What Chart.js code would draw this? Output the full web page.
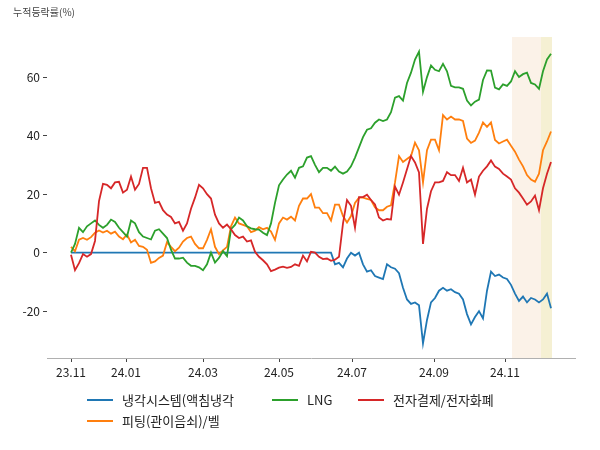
<!DOCTYPE html>
<html>
<head>
<meta charset="utf-8">
<script src="https://cdn.jsdelivr.net/npm/chart.js@4.4.1/dist/chart.umd.min.js"></script>
<style>
  body { margin: 0; background: #fff; }
  #wrap { position: relative; width: 600px; height: 450px; font-family: "Noto Sans CJK KR", "Noto Sans", sans-serif; }
  #title { position: absolute; left: 13px; top: 4px; font-size: 10px; color: #444; }
  .leg { position: absolute; font-size: 13px; color: #222; line-height: 16px; white-space: nowrap; }
  .leg span.ln { position: absolute; left: -35px; top: 7px; width: 26px; height: 2px; }
</style>
</head>
<body>
<div id="wrap">
  <canvas id="chart" width="600" height="450"></canvas>
  <div id="title">누적등락률(%)</div>
</div>
<script>
const seriesNames = ["냉각시스템(액침냉각", "피팅(관이음쇠)/벨", "LNG", "전자결제/전자화폐"];
const seriesColors = ["#1f77b4", "#ff7f0e", "#2ca02c", "#d62728"];

const cooling = [
  0, 0, 0, 0, 0, 0, 0, 0, 0, 0, 0, 0, 0, 0, 0, 0, 0, 0, 0, 0,
  0, 0, 0, 0, 0, 0, 0, 0, 0, 0, 0, 0, 0, 0, 0, 0, 0, 0, 0, 0,
  0, 0, 0, 0, 0, 0, 0, 0, 0, 0, 0, 0, 0, 0, 0, 0, 0, 0, 0, 0,
  0, 0, 0, 0, 0, 0, -4, -3.5, -5, -2, 0, -1, 0, -4, -6.5, -6, -8, -8.5, -9, -4,
  -5, -5.5, -7, -12, -16, -17.5, -17, -18, -31, -23, -17, -15.5, -13, -12, -13, -12.5, -13.5, -14, -16, -21,
  -24.5, -22, -20, -22.5, -13, -6.5, -8, -7.5, -8.5, -9, -11, -14, -16.5, -15, -17, -15.5, -16, -17, -16, -14,
  -19
];
const fitting = [
  2, 0.5, 4.4, 5, 4.4, 5.3, 6.8, 7.6, 6.9, 7.5, 6.5, 7.2, 5.5, 4.6, 6.2, 3.5, 4.4, 2.3, 2, 1,
  -3.5, -3, -1.8, -1, 3.6, 2, 0.5, 1.7, 3.8, 5, 5.5, 3, 1.5, 1.5, 4.4, 8, 2, -0.5, 0.8, 2,
  9, 12, 10, 9.5, 9, 7, 7.5, 8.7, 8, 8.5, 7.2, 4.4, 10, 12, 11.3, 12.3, 11, 16, 18.5, 18.5,
  20, 15.4, 15.4, 13.5, 13.5, 11, 16.4, 16.4, 12.5, 10.3, 12.5, 17, 18.8, 18.8, 18.4, 18, 15.5, 14.5, 14.5, 15.7,
  16.2, 24, 33, 31, 32, 33, 37.6, 35, 24, 35, 38.6, 38.6, 35, 47, 45.5, 46.5, 45.5, 45.5, 45, 39,
  37.5, 38.3, 41, 44.5, 43, 44.5, 38.5, 37.3, 38, 38.6, 36.5, 34.5, 31.8, 29.5, 26.5, 25, 24.2, 27, 35, 38,
  41.4
];
const lng = [
  0, 3, 8.5, 7, 9, 10, 11, 9.5, 8.5, 9.5, 11.3, 10.5, 8.5, 7, 5.5, 11, 10, 7, 5.5, 5,
  4.5, 7.5, 8, 6.5, 5, 1, -2, -2, -1.7, -3.4, -4.5, -4.5, -5, -6, -4, 0, -3.4, -1.8, 0.5, -1.2,
  8, 9.5, 12, 11, 9, 8.3, 8, 7.9, 6.8, 6, 10, 17, 23, 25, 26.7, 28, 25.6, 29, 29.5, 32.5,
  33, 30, 27.5, 29, 29, 28, 29.4, 27.7, 27, 27.7, 29.5, 32.5, 36, 39.5, 42, 42.5, 44.4, 45.5, 45, 45.5,
  48, 53, 53.5, 52, 58, 61.5, 66, 68.7, 55, 60, 64, 62.5, 62, 64.5, 62, 57, 56.5, 56.5, 56, 52,
  50.3, 51.6, 52.3, 59, 62.3, 62.2, 56.4, 55.8, 57.5, 57, 58.5, 62, 60, 61, 61.5, 58, 57.5, 56, 62, 66,
  68
];
const epay = [
  -0.7, -6, -3.6, -0.5, -1.4, -0.5, 4, 17.6, 23.5, 23.2, 22, 24, 24.2, 20.5, 21.5, 26, 21.5, 23.5, 29, 29,
  22, 17, 17.4, 14.5, 13, 12.2, 10, 10.5, 7.5, 10, 15, 18.8, 23.2, 22, 20, 18.5, 13, 10, 8.5, 9.6,
  8, 6, 5, 5.5, 3.8, 4.2, 0.3, -1.4, -2.6, -4, -6.3, -5.8, -5.1, -4.8, -5.2, -4.9, -4, -4.5, -1, -3,
  0.3, 0, -1.4, -2.2, -2, -2.8, -2.4, -1.4, 10, 18, 16, 8.5, 19, 19, 19.8, 18, 16.5, 12, 11, 11.5,
  11.3, 22.6, 19.8, 24, 28.5, 33, 30.8, 27.4, 3, 15, 21, 24, 24, 24.5, 27.5, 26.5, 26.5, 24.5, 29, 24,
  25, 19.8, 26, 28, 29.5, 31.5, 29.4, 28.6, 27, 26, 25, 22, 20.5, 18.5, 16.4, 17.5, 19.5, 14.5, 22, 27,
  31
];
const seriesValues = [cooling, fitting, lng, epay];

// x ticks sit on the first trading day of each month (index into the series)
const xTickPos = [0, 13.75, 33, 52, 70.25, 90.75, 108.5];
const xTickLabels = ["23.11", "24.01", "24.03", "24.05", "24.07", "24.09", "24.11"];
const yTicks = [-20, 0, 20, 40, 60];
const bands = [[110.25, 117.5], [117.5, 120.25]];
const bandColors = ["rgba(250, 236, 222, 0.7)", "rgba(243, 236, 200, 0.8)"];

const bandPlugin = {
  id: "bands",
  beforeDatasetsDraw(chart) {
    const { ctx, chartArea, scales } = chart;
    ctx.save();
    bands.forEach((b, i) => {
      const x0 = scales.x.getPixelForValue(b[0]);
      const x1 = scales.x.getPixelForValue(b[1]);
      ctx.fillStyle = bandColors[i];
      ctx.fillRect(x0, chartArea.top, x1 - x0, chartArea.bottom - chartArea.top);
    });
    ctx.restore();
  },
};

Chart.defaults.font.family = '"Noto Sans CJK KR", "Noto Sans", sans-serif';
Chart.defaults.color = "#222";

const chart = new Chart(document.getElementById("chart"), {
  type: "line",
  data: {
    datasets: seriesValues.map((vals, k) => ({
      label: seriesNames[k],
      data: vals.map((v, i) => ({ x: i, y: v })),
      borderColor: seriesColors[k],
      borderWidth: 1.8,
      pointRadius: 0,
      tension: 0,
      fill: false,
      order: 3 - k, // later series drawn on top
    })),
  },
  options: {
    responsive: false,
    animation: false,
    layout: { padding: { left: 0, top: 37, right: 25, bottom: 62 } },
    plugins: { legend: { display: false }, tooltip: { enabled: false } },
    scales: {
      x: {
        type: "linear",
        min: -6,
        max: 126,
        afterFit: (s) => { s.height = 30; },
        afterBuildTicks: (s) => { s.ticks = xTickPos.map((v) => ({ value: v })); },
        ticks: {
          autoSkip: false,
          maxRotation: 0,
          padding: 3,
          font: { size: 12 },
          callback: (v) => xTickLabels[xTickPos.indexOf(v)],
        },
        grid: { display: true, drawOnChartArea: false, drawTicks: true, tickLength: 4, color: "#444" },
        border: { display: true, color: "#b0b0b0", width: 1 },
      },
      y: {
        type: "linear",
        min: -36,
        max: 73.7,
        afterFit: (s) => { s.width = 47; },
        afterBuildTicks: (s) => { s.ticks = yTicks.map((v) => ({ value: v })); },
        ticks: { padding: 3, font: { size: 12 } },
        grid: { display: true, drawOnChartArea: false, drawTicks: true, tickLength: 4, color: "#444" },
        border: { display: false },
      },
    },
  },
  plugins: [bandPlugin],
});

// legend laid out in three columns like the original (column-major)
const legendPos = [[122, 392], [122, 413], [307, 392], [393, 392]];
const wrap = document.getElementById("wrap");
seriesNames.forEach((name, k) => {
  const d = document.createElement("div");
  d.className = "leg";
  d.style.left = legendPos[k][0] + "px";
  d.style.top = legendPos[k][1] + "px";
  d.innerHTML = '<span class="ln" style="background:' + seriesColors[k] + '"></span>' + name;
  wrap.appendChild(d);
});
</script>
</body>
</html>
